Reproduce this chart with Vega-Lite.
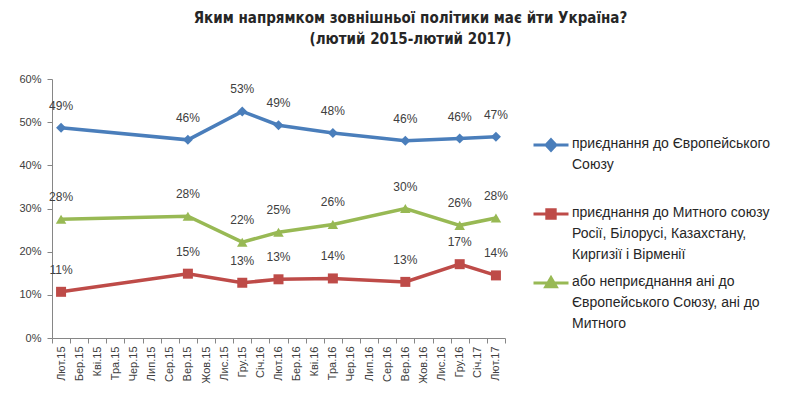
{
  "$schema": "https://vega.github.io/schema/vega-lite/v6.json",
  "autosize": "none",
  "width": 453,
  "height": 259,
  "padding": {"left": 52, "top": 79, "right": 296, "bottom": 65},
  "background": "white",
  "config": {
    "view": {"stroke": null},
    "font": "Liberation Sans"
  },
  "title": {
    "text": ["Яким напрямком зовнішньої політики має йти Україна?", "(лютий 2015-лютий 2017)"],
    "anchor": "middle",
    "dx": 132,
    "offset": 26,
    "font": "Liberation Sans Narrow, DejaVu Sans Condensed, sans-serif",
    "fontSize": 15,
    "fontWeight": "bold",
    "lineHeight": 21,
    "color": "#262626"
  },
  "data": {
    "values": [
      {"month": "Лют.15", "series": "EU", "value": 0.487, "label": "49%"},
      {"month": "Вер.15", "series": "EU", "value": 0.459, "label": "46%"},
      {"month": "Гру.15", "series": "EU", "value": 0.525, "label": "53%"},
      {"month": "Лют.16", "series": "EU", "value": 0.493, "label": "49%"},
      {"month": "Тра.16", "series": "EU", "value": 0.475, "label": "48%"},
      {"month": "Вер.16", "series": "EU", "value": 0.457, "label": "46%"},
      {"month": "Гру.16", "series": "EU", "value": 0.462, "label": "46%"},
      {"month": "Лют.17", "series": "EU", "value": 0.466, "label": "47%"},
      {"month": "Лют.15", "series": "CU", "value": 0.107, "label": "11%"},
      {"month": "Вер.15", "series": "CU", "value": 0.149, "label": "15%"},
      {"month": "Гру.15", "series": "CU", "value": 0.128, "label": "13%"},
      {"month": "Лют.16", "series": "CU", "value": 0.136, "label": "13%"},
      {"month": "Тра.16", "series": "CU", "value": 0.138, "label": "14%"},
      {"month": "Вер.16", "series": "CU", "value": 0.130, "label": "13%"},
      {"month": "Гру.16", "series": "CU", "value": 0.171, "label": "17%"},
      {"month": "Лют.17", "series": "CU", "value": 0.145, "label": "14%"},
      {"month": "Лют.15", "series": "None", "value": 0.275, "label": "28%"},
      {"month": "Вер.15", "series": "None", "value": 0.282, "label": "28%"},
      {"month": "Гру.15", "series": "None", "value": 0.222, "label": "22%"},
      {"month": "Лют.16", "series": "None", "value": 0.245, "label": "25%"},
      {"month": "Тра.16", "series": "None", "value": 0.263, "label": "26%"},
      {"month": "Вер.16", "series": "None", "value": 0.300, "label": "30%"},
      {"month": "Гру.16", "series": "None", "value": 0.261, "label": "26%"},
      {"month": "Лют.17", "series": "None", "value": 0.278, "label": "28%"}
    ]
  },
  "encoding": {
    "x": {
      "field": "month",
      "type": "nominal",
      "scale": {
        "type": "band",
        "paddingInner": 0,
        "paddingOuter": 0,
        "domain": ["Лют.15","Бер.15","Кві.15","Тра.15","Чер.15","Лип.15","Сер.15","Вер.15","Жов.15","Лис.15","Гру.15","Січ.16","Лют.16","Бер.16","Кві.16","Тра.16","Чер.16","Лип.16","Сер.16","Вер.16","Жов.16","Лис.16","Гру.16","Січ.17","Лют.17"]
      },
      "axis": {
        "title": null,
        "labelAngle": -90,
        "labelAlign": "right",
        "labelBaseline": "middle",
        "labelFontSize": 11,
        "labelColor": "#404040",
        "labelPadding": 3,
        "tickBand": "extent",
        "tickSize": 5,
        "tickColor": "#868686",
        "domainColor": "#868686",
        "grid": false
      }
    },
    "y": {
      "field": "value",
      "type": "quantitative",
      "scale": {"domain": [0, 0.6], "nice": false},
      "axis": {
        "title": null,
        "values": [0, 0.1, 0.2, 0.3, 0.4, 0.5, 0.6],
        "format": ".0%",
        "labelFontSize": 11,
        "labelColor": "#404040",
        "labelPadding": 6,
        "tickSize": 5,
        "tickColor": "#868686",
        "domainColor": "#868686",
        "grid": false
      }
    }
  },
  "layer": [
    {
      "mark": {"type": "line", "strokeWidth": 3.5},
      "encoding": {
        "color": {
          "field": "series",
          "type": "nominal",
          "scale": {"domain": ["EU", "CU", "None"], "range": ["#4A7EBB", "#BE4B48", "#98B954"]},
          "legend": {
            "orient": "none",
            "legendX": 480,
            "legendY": 47,
            "title": null,
            "padding": 0,
            "rowPadding": 2,
            "symbolSize": 1225,
            "symbolStrokeWidth": 3,
            "labelFont": "Liberation Sans",
            "labelFontSize": 14,
            "labelColor": "#262626",
            "labelLimit": 400,
            "labelOffset": 2,
            "labelBaseline": "top",
            "labelExpr": "datum.value == 'EU' ? ['приєднання до Європейського', 'Союзу', ''] : datum.value == 'CU' ? ['приєднання до Митного союзу', 'Росії, Білорусі, Казахстану,', 'Киргизії і Вірменії'] : ['або неприєднання ані до', 'Європейського Союзу, ані до', 'Митного']",
            "encode": {
              "symbols": {
                "update": {
                  "shape": {"signal": "datum.value == 'EU' ? 'M-1,0H1M0,-0.3L0.28,0L0,0.3L-0.28,0Z' : datum.value == 'CU' ? 'M-1,0H1M-0.24,-0.24H0.24V0.24H-0.24Z' : 'M-1,0H1M0,-0.3L0.3,0.22H-0.3Z'"},
                  "fill": {"signal": "scale('color', datum.value)"},
                  "stroke": {"signal": "scale('color', datum.value)"},
                  "strokeWidth": {"value": 3},
                  "opacity": {"value": 1}
                }
              },
              "labels": {
                "update": {
                  "dy": {"value": -8},
                  "lineHeight": {"value": 21}
                }
              }
            }
          }
        }
      }
    },
    {
      "transform": [{"filter": "datum.series == 'EU'"}],
      "mark": {"type": "point", "shape": "diamond", "filled": true, "opacity": 1, "size": 100, "color": "#4A7EBB"},
      "encoding": {}
    },
    {
      "transform": [{"filter": "datum.series == 'CU'"}],
      "mark": {"type": "point", "shape": "square", "filled": true, "opacity": 1, "size": 100, "color": "#BE4B48"},
      "encoding": {}
    },
    {
      "transform": [{"filter": "datum.series == 'None'"}],
      "mark": {"type": "point", "shape": "triangle-up", "filled": true, "opacity": 1, "size": 110, "color": "#98B954"},
      "encoding": {}
    },
    {
      "mark": {"type": "text", "dy": -22, "fontSize": 12, "color": "#404040", "font": "Liberation Sans"},
      "encoding": {
        "text": {"field": "label"}
      }
    }
  ]
}
